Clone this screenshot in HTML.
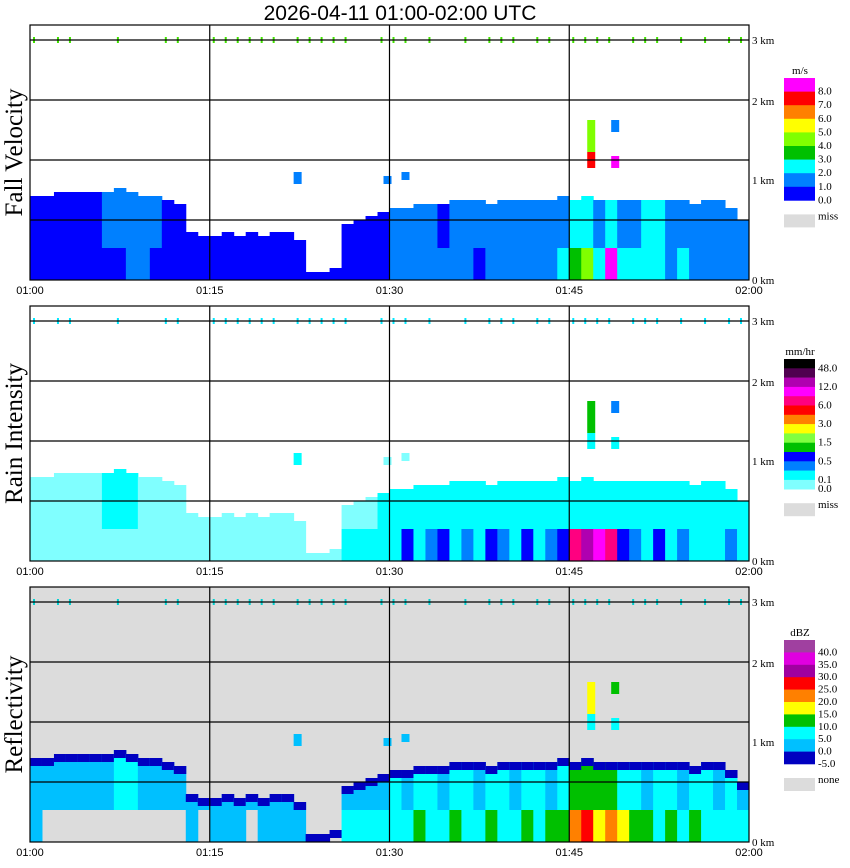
<!DOCTYPE html>
<html><head><meta charset="utf-8">
<style>
body{margin:0;background:#fff;width:850px;height:868px;overflow:hidden;font-family:"Liberation Serif",serif;}
svg{display:block}
</style></head>
<body>
<svg id="chart" width="850" height="868" xmlns="http://www.w3.org/2000/svg">
<text x="400" y="20" text-anchor="middle" font-family="Liberation Sans, sans-serif" font-size="21">2026-04-11   01:00-02:00 UTC</text>
</svg>
<script>
// ---- data (per minute 01:00 .. 01:59) ----
const minutes = Array.from({length:60},(_,i)=>i);
const echoTop = [1.05,1.05,1.1,1.1,1.1,1.1,1.1,1.15,1.1,1.05,
 1.05,1.0,0.95,0.6,0.55,0.55,0.6,0.55,0.6,0.55,
 0.6,0.6,0.5,0.1,0.1,0.15,0.7,0.75,0.8,0.85,
 0.9,0.9,0.95,0.95,0.95,1.0,1.0,1.0,0.95,1.0,
 1.0,1.0,1.0,1.0,1.05,1.0,1.05,1.0,1.0,1.0,
 1.0,1.0,1.0,1.0,1.0,0.95,1.0,1.0,0.9,0.75];
const velUpper = [0.5,0.5,0.5,0.5,0.5,0.5,1.5,1.5,1.5,1.5,1.5,0.5,0.5,0.5,0.5,0.5,0.5,0.5,0.5,0.5,
 0.5,0.5,0.5,0.5,0.5,0.5,0.5,0.5,0.5,0.5,1.5,1.5,1.5,1.5,0.5,1.5,1.5,1.5,1.5,1.5,
 1.5,1.5,1.5,1.5,1.5,2.5,2.5,1.5,2.5,1.5,1.5,2.5,2.5,1.5,1.5,1.5,1.5,1.5,1.5,1.5];
const velLower = [0.5,0.5,0.5,0.5,0.5,0.5,0.5,0.5,1.5,1.5,0.5,0.5,0.5,0.5,0.5,0.5,0.5,0.5,0.5,0.5,
 0.5,0.5,0.5,0.5,0.5,0.5,0.5,0.5,0.5,0.5,1.5,1.5,1.5,1.5,1.5,1.5,1.5,0.5,1.5,1.5,
 1.5,1.5,1.5,1.5,2.5,3.5,4.5,2.5,8.5,2.5,2.5,2.5,2.5,1.5,2.5,1.5,1.5,1.5,1.5,1.5];
const rainUpper = [0.05,0.05,0.05,0.05,0.05,0.05,0.15,0.15,0.15,0.05,0.05,0.05,0.05,0.05,0.05,0.05,0.05,0.05,0.05,0.05,
 0.05,0.05,0.05,0.05,0.05,0.05,0.05,0.05,0.05,0.15,0.15,0.15,0.15,0.15,0.15,0.15,0.15,0.15,0.15,0.15,
 0.15,0.15,0.15,0.15,0.15,0.15,0.15,0.15,0.15,0.15,0.15,0.15,0.15,0.15,0.15,0.15,0.15,0.15,0.15,0.15];
const rainLower = [0.05,0.05,0.05,0.05,0.05,0.05,0.05,0.05,0.05,0.05,0.05,0.05,0.05,0.05,0.05,0.05,0.05,0.05,0.05,0.05,
 0.05,0.05,0.05,0.05,0.05,0.05,0.15,0.15,0.15,0.15,0.15,0.6,0.15,0.35,0.6,0.15,0.35,0.15,0.6,0.35,
 0.15,0.6,0.15,0.35,0.6,8,20,10,7,0.6,0.35,0.15,0.6,0.15,0.35,0.15,0.15,0.15,0.35,0.15];
const dbzUpper = [2.5,2.5,2.5,2.5,2.5,2.5,2.5,7,7,2.5,2.5,2.5,2.5,2.5,2.5,2.5,2.5,2.5,2.5,2.5,
 2.5,2.5,2.5,2.5,2.5,2.5,2.5,2.5,2.5,2.5,7,2.5,7,7,2.5,7,7,2.5,7,7,
 2.5,7,7,2.5,7,12,12,12,12,7,7,2.5,7,7,2.5,7,7,2.5,7,2.5];
const dbzLower = [2.5,-10,-10,-10,-10,-10,-10,-10,-10,-10,-10,-10,-10,2.5,-10,2.5,2.5,2.5,-10,2.5,
 2.5,2.5,2.5,-10,-10,-10,7,7,7,7,7,7,12,7,7,12,7,7,12,7,
 7,12,7,12,12,22,27,17,22,17,12,12,7,12,7,12,7,7,7,7];
const cellMin = [22,29.5,31,46.5,46.5,48.5,48.5];
const cellBot = [1.2,1.2,1.25,1.6,1.4,1.85,1.4];
const cellTop = [1.35,1.3,1.35,2.0,1.6,2.0,1.55];
const cellVel = [1.5,1.5,1.5,4.5,7.5,1.5,8.5];
const cellRain = [0.15,0.05,0.05,1,0.15,0.35,0.15];
const cellDbz = [2.5,2.5,2.5,17,7,12,7];
const dotMin = [0,2,3,7,11,12,15,16,17,18,19,20,22,23,24,25,26,29,30,31,33,
 36,38,39,40,42,43,45,46,47,48,50,51,52,54,56,58,59];
const timeLabels = ["01:00","01:15","01:30","01:45","02:00"];
const kmLabels = ["3 km","2 km","1 km","0 km"];
// legends
const velColors=["#ff00ff","#ff0000","#ff8000","#ffff00","#80ff00","#00c000","#00ffff","#0080ff","#0000ff"];
const velEdges=[8,7,6,5,4,3,2,1,0];
const velLabels=["8.0","7.0","6.0","5.0","4.0","3.0","2.0","1.0","0.0"];
const rainColors=["#000000","#500050","#b000b0","#ff00ff","#ff0080","#ff0000","#ff8000","#ffff00","#80ff40","#00c000","#0000ff","#0080ff","#00ffff","#80ffff"];
const rainEdges=[48,24,12,9,6,4.5,3,2,1.5,1,0.5,0.25,0.1,0];
const rainLabels=["48.0","","12.0","","6.0","","3.0","","1.5","","0.5","","0.1","0.0"];
const dbzColors=["#a040a0","#e000e0","#a000a0","#ff0000","#ff8000","#ffff00","#00c000","#00ffff","#00c0ff","#0000c0"];
const dbzEdges=[40,35,30,25,20,15,10,5,0,-5];
const dbzLabels=["40.0","35.0","30.0","25.0","20.0","15.0","10.0","5.0","0.0","-5.0"];

const NS="http://www.w3.org/2000/svg";
const svg=document.getElementById('chart');
const X0=30,X1=749,H=255;
function xOf(m){return X0+m*(X1-X0)/60;}
function colorFor(v,edges,colors){for(let i=0;i<edges.length;i++){if(v>=edges[i])return colors[i];}return null;}
function mk(tag,attrs){const e=document.createElementNS(NS,tag);for(const k in attrs)e.setAttribute(k,attrs[k]);return e;}

const panels=[
 {top:25,title:"Fall Velocity",bg:"#ffffff",up:velUpper,lo:velLower,cell:cellVel,edges:velEdges,colors:velColors,rim:null,dot:"#40e000",
  legTop:78,legStep:13.6,labels:velLabels,unit:"m/s",miss:"miss",key:"fall"},
 {top:306,title:"Rain Intensity",bg:"#ffffff",up:rainUpper,lo:rainLower,cell:cellRain,edges:rainEdges,colors:rainColors,rim:null,dot:"#00e8ff",
  legTop:359,legStep:9.3,labels:rainLabels,unit:"mm/hr",miss:"miss",key:"rain"},
 {top:587,title:"Reflectivity",bg:"#dcdcdc",up:dbzUpper,lo:dbzLower,cell:cellDbz,edges:dbzEdges,colors:dbzColors,rim:"#0000c0",dot:"#00d0d0",
  legTop:640,legStep:12.4,labels:dbzLabels,unit:"dBZ",miss:"none",key:"refl"}
];

panels.forEach(p=>{
 const g=mk('g',{});
 
 
 svg.appendChild(g);
 const bot=p.top+H;
 function yOf(km){return bot-km*80;}
 g.appendChild(mk('rect',{x:X0,y:p.top,width:X1-X0,height:H,fill:p.bg}));
 minutes.forEach(i=>{
  const x=xOf(i),w=xOf(i+1)-x+0.5;
  const t=echoTop[i];
  const split=Math.min(0.4,t);
  const cu=colorFor(p.up[i],p.edges,p.colors), cl=colorFor(p.lo[i],p.edges,p.colors);
  if(t>split&&cu){const r=mk('rect',{x:x,y:yOf(t),width:w,height:yOf(split)-yOf(t),fill:cu});
   g.appendChild(r);}
  if(cl){const r2=mk('rect',{x:x,y:yOf(split),width:w,height:yOf(0)-yOf(split),fill:cl});
   g.appendChild(r2);}
  if(p.rim){const r3=mk('rect',{x:x,y:yOf(t),width:w,height:Math.min(8,yOf(0)-yOf(t)),fill:p.rim});
   g.appendChild(r3);}
 });
 cellMin.forEach((m,j)=>{
  const r=mk('rect',{x:xOf(m),y:yOf(cellTop[j]),width:8,height:yOf(cellBot[j])-yOf(cellTop[j]),fill:colorFor(p.cell[j],p.edges,p.colors)});
  g.appendChild(r);
 });
 dotMin.forEach(m=>{
  const r=mk('rect',{x:xOf(m)+3,y:yOf(3)-3,width:2,height:6,fill:p.dot});
  g.appendChild(r);
 });
 [0.75,1.5,2.25,3].forEach(k=>g.appendChild(mk('line',{x1:X0,x2:X1,y1:yOf(k),y2:yOf(k),stroke:'#000','stroke-width':1.2})));
 [15,30,45].forEach(m=>g.appendChild(mk('line',{x1:xOf(m),x2:xOf(m),y1:p.top,y2:bot,stroke:'#000','stroke-width':1.2})));
 g.appendChild(mk('rect',{x:X0,y:p.top,width:X1-X0,height:H,fill:'none',stroke:'#000','stroke-width':1.2}));
 const kmY=[yOf(3)+4,yOf(2.0)-15,yOf(1.0)-16,bot+4];
 kmLabels.forEach((s,j)=>{const t=mk('text',{x:752,y:kmY[j],'font-size':11});t.textContent=s;
  g.appendChild(t);});
 timeLabels.forEach((s,j)=>{const t=mk('text',{x:xOf(j*15),y:bot+14,'font-size':11,'text-anchor':'middle','font-family':'Liberation Sans, sans-serif'});t.textContent=s;
  g.appendChild(t);});
 const tt=mk('text',{x:0,y:0,'font-size':25,'text-anchor':'middle',transform:`translate(22,${p.top+H/2}) rotate(-90)`});
 tt.textContent=p.title;g.appendChild(tt);
 const lg=mk('g',{});g.appendChild(lg);
 const u=mk('text',{x:800,y:p.legTop-4,'font-size':11,'text-anchor':'middle'});u.textContent=p.unit;lg.appendChild(u);
 p.colors.forEach((c,j)=>{
  lg.appendChild(mk('rect',{x:784,y:p.legTop+j*p.legStep,width:31,height:p.legStep+0.3,fill:c}));
  const lab=p.labels[j];
  if(lab){const t=mk('text',{x:818,y:p.legTop+(j+1)*p.legStep+3,'font-size':11});t.textContent=lab;lg.appendChild(t);}
 });
 const mTop=p.legTop+p.colors.length*p.legStep+14;
 lg.appendChild(mk('rect',{x:784,y:mTop,width:31,height:13,fill:'#dcdcdc'}));
 const mt=mk('text',{x:818,y:mTop+5,'font-size':11});mt.textContent=p.miss;lg.appendChild(mt);
});
</script>
</body></html>
